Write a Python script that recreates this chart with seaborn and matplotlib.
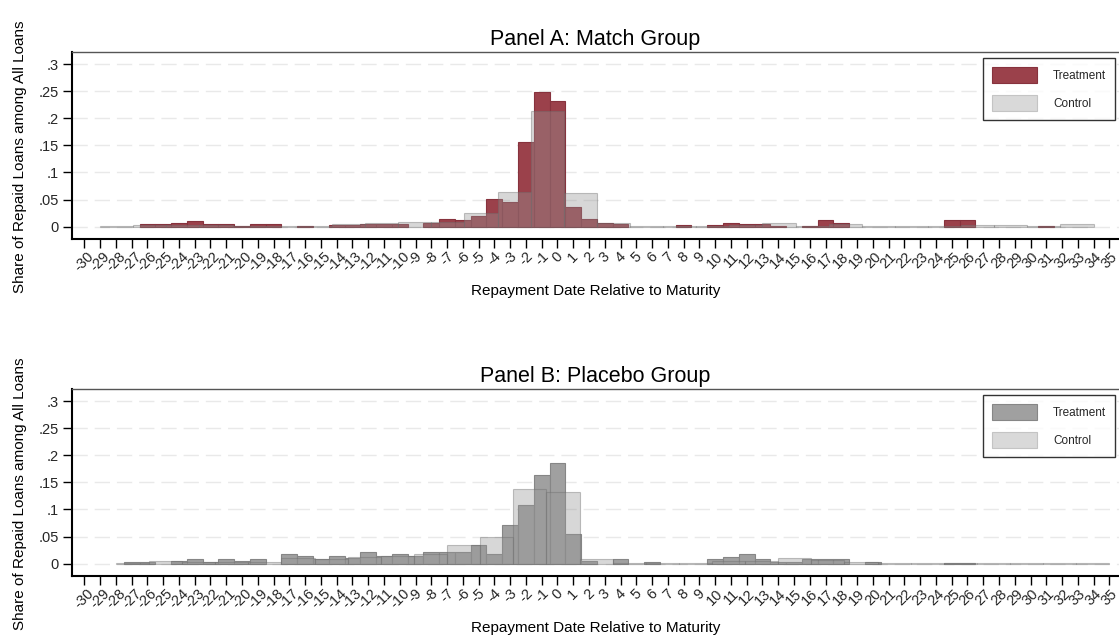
import numpy as np
import pandas as pd
import matplotlib
matplotlib.use("Agg")
import matplotlib.pyplot as plt
from matplotlib.patches import Patch
import seaborn as sns

# ---------------- data ----------------
days = list(range(-30, 36))  # repayment day relative to maturity (x ticks)

match_treatment = [0, 0, 0, 0,
                   .0044, .0044, .007, .010,
                   .0044, .0044, .002, .0044,
                   .0044, 0, .002, 0,
                   .0025, .0025, .005, .005,
                   .005, 0, .0074, .014,
                   .0117, .019, .051, .046,
                   .156, .249, .232, .036,
                   .014, .0068, .005, 0,
                   0, 0, .0025, 0,
                   .004, .007, .0044, .0044,
                   .002, 0, .002, .0125,
                   .0075, 0, 0, 0,
                   0, 0, 0, .0125,
                   .0125, 0, 0, 0,
                   0, .002, 0, 0,
                   0, 0]

placebo_treatment = [0, 0, 0, .0025,
                     .0025, 0, .0055, .0086,
                     .0025, .0086, .0055, .0086,
                     0, .018, .0148, .0086,
                     .0148, .0098, .021, .0148,
                     .0178, .0148, .021, .021,
                     .021, .0338, .0178, .0707,
                     .108, .1636, .1857, .0547,
                     .005, 0, .008, 0,
                     .0025, 0, 0, 0,
                     .008, .0117, .0178, .0085,
                     .0025, .0025, .0093, .008,
                     .008, 0, .0025, 0,
                     0, 0, 0, .002,
                     .002, 0, 0, 0,
                     0, 0, 0, 0,
                     0, 0]

# control histograms use 30 bins of width 2.1
ctrl_bin_width = 2.1
match_ctrl_start = -29.0
placebo_ctrl_start = -28.0
match_control = [.001, .003, .003, .003, .002, .002, .002, .005, .006, .008,
                 .009, .0246, .0633, .2134, .0615, .0074, .001, .001, .001, .003,
                 .006, .002, .005, .002, .002, .001, .0025, .0025, .001, .0044]
placebo_control = [.002, .005, .004, .004, .0025, .010, .008, .012, .015, .018,
                   .0338, .049, .138, .1316, .008, .002, .0015, .001, .005, .005,
                   .0105, .006, .0025, .001, .001, .0015, .0015, .001, .0005, .001]

ytick_vals = [0, .05, .1, .15, .2, .25, .3]
ytick_labels = ["0", ".05", ".1", ".15", ".2", ".25", ".3"]
titles = ["Panel A: Match Group", "Panel B: Placebo Group"]
legend_labels = ["Treatment", "Control"]
xlabel = "Repayment Date Relative to Maturity"
ylabel = "Share of Repaid Loans among All Loans"

# ---------------- style ----------------
sns.set_theme(style="white")
plt.rcParams["font.family"] = ["Liberation Sans", "DejaVu Sans"]

fig = plt.figure(figsize=(11.19, 6.43), dpi=100)
W, H = 1119, 643

def add_ax(top_px, bottom_px, left_px=72, right_px=1119):
    return fig.add_axes([left_px / W, 1 - bottom_px / H,
                         (right_px - left_px) / W, (bottom_px - top_px) / H])

axA = add_ax(52, 239)
axB = add_ax(389, 576)

treat_colors = [("#9b414b", "#87323d"), ("#a0a0a0", "#868686")]
ctrl_face = (0.59, 0.59, 0.59, 0.38)
ctrl_edge = (0.42, 0.42, 0.42, 0.40)

panels = [
    (axA, match_treatment, match_control, match_ctrl_start),
    (axB, placebo_treatment, placebo_control, placebo_ctrl_start),
]

for i, (ax, treat, ctrl, cstart) in enumerate(panels):
    d = np.array(days, dtype=float)
    tdf = pd.DataFrame({"day": d, "share": treat})
    t_edges = [float(v) for v in np.append(d - 0.5, d[-1] + 0.5)]
    fc, ec = treat_colors[i]
    sns.histplot(data=tdf, x="day", weights="share", bins=t_edges, ax=ax,
                 stat="count", facecolor=fc, edgecolor=ec, linewidth=0.8,
                 alpha=1.0)
    c_edges = cstart + ctrl_bin_width * np.arange(len(ctrl) + 1)
    c_centers = (c_edges[:-1] + c_edges[1:]) / 2
    cdf = pd.DataFrame({"day": c_centers, "share": ctrl})
    sns.histplot(data=cdf, x="day", weights="share",
                 bins=[float(v) for v in c_edges], ax=ax,
                 stat="count", facecolor=ctrl_face, edgecolor=ctrl_edge,
                 linewidth=0.8)
    for p in ax.patches:
        if p.get_height() <= 0:
            p.set_visible(False)

    ax.set_xlim((72 - 84.33) / 15.77 - 30, (1119 - 84.33) / 15.77 - 30)
    ax.set_ylim(-0.0227, 0.3223)
    ax.set_yticks(ytick_vals)
    ax.set_yticklabels(ytick_labels, fontsize=10.5)
    ax.set_xticks(days)
    ax.set_xticklabels([str(v) for v in days], rotation=45, ha="center",
                       fontsize=10.5)
    ax.tick_params(axis="y", direction="out", length=6.5, width=1,
                   color="black", pad=3, left=True)
    ax.tick_params(axis="x", direction="out", length=6.5, width=1,
                   color="black", pad=1, bottom=True)
    ax.grid(False)
    for yv in ytick_vals:
        ax.axhline(yv, color="#e9e9e9", lw=1.0, ls=(0, (11, 5)), zorder=0)
    ax.set_axisbelow(True)
    for s in ["left", "bottom"]:
        ax.spines[s].set_color("black")
        ax.spines[s].set_linewidth(1.5)
    ax.spines["top"].set_color("#555555")
    ax.spines["top"].set_linewidth(1.0)
    ax.spines["right"].set_visible(False)

    ax.set_title(titles[i], fontsize=15.5, pad=5, color="black")
    ax.set_xlabel(xlabel, fontsize=11, color="black")
    ax.xaxis.set_label_coords(0.5, -0.28)
    ax.xaxis.label.set_va("center")
    ax.set_ylabel(ylabel, fontsize=11, color="black")
    ax.yaxis.set_label_coords(-0.05, 0.44)
    ax.yaxis.label.set_va("center")

    handles = [Patch(facecolor=fc, edgecolor=ec, linewidth=0.8),
               Patch(facecolor="#d9d9d9", edgecolor="#c4c4c4", linewidth=0.8)]
    leg = ax.legend(handles, legend_labels, loc="upper right",
                    bbox_to_anchor=((1115 - 72) / 1047, (239 - 58) / 187),
                    fontsize=8.5, handlelength=3.8, handleheight=1.75,
                    labelspacing=1.0, handletextpad=1.35, borderpad=0.75,
                    borderaxespad=0, frameon=True, fancybox=False)
    leg.get_frame().set_edgecolor("black")
    leg.get_frame().set_linewidth(1.0)

fig.savefig("out.png", dpi=100)
